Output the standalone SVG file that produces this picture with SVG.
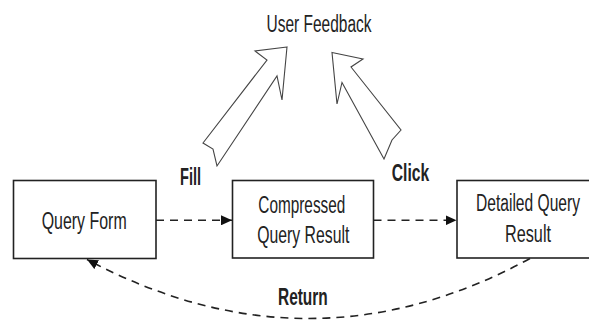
<svg xmlns="http://www.w3.org/2000/svg" width="589" height="320" viewBox="0 0 589 320">
<style>
  .box { fill: #fff; stroke: #222; stroke-width: 1.6; }
  .lbl { font-family: "Liberation Sans", Arial, sans-serif; font-size: 23px; fill: #222; }
  .bold { font-weight: bold; }
  .dash { fill: none; stroke: #222; stroke-width: 1.6; stroke-dasharray: 8 6; }
  .block { fill: #fff; stroke: #444; stroke-width: 1.1; stroke-linejoin: miter; }
</style>
<defs>
  <marker id="ah" markerUnits="userSpaceOnUse" markerWidth="11" markerHeight="10" refX="11" refY="5" orient="auto">
    <path d="M0,0 L11,5 L0,10 z" fill="#111"/>
  </marker>
</defs>
<rect width="589" height="320" fill="#fff"/>

<g id="user-feedback">
  <text class="lbl" x="266.5" y="31.5" textLength="105" lengthAdjust="spacingAndGlyphs">User Feedback</text>
</g>

<g id="fill-arrow">
  <polygon class="block" points="287,47 255,51 267,60 203,143 213,149 217,166 277,76 282,100"/>
  <text class="lbl bold" x="180" y="185" textLength="21" lengthAdjust="spacingAndGlyphs">Fill</text>
</g>

<g id="click-arrow">
  <polygon class="block" points="332,52.5 363,59 351,67 401,130 392,140 384,159 342,82.5 337,104"/>
  <text class="lbl bold" x="391.7" y="180.5" textLength="37.5" lengthAdjust="spacingAndGlyphs">Click</text>
</g>

<g id="query-form">
  <rect class="box" x="13.5" y="180.5" width="142.5" height="78"/>
  <text class="lbl" x="41.7" y="228.5" textLength="85" lengthAdjust="spacingAndGlyphs">Query Form</text>
</g>

<g id="compressed-query-result">
  <rect class="box" x="232.5" y="180.5" width="141" height="77.5"/>
  <text class="lbl" x="258.3" y="212.7" textLength="87" lengthAdjust="spacingAndGlyphs">Compressed</text>
  <text class="lbl" x="257.3" y="243.3" textLength="92" lengthAdjust="spacingAndGlyphs">Query Result</text>
</g>

<g id="detailed-query-result">
  <rect class="box" x="457" y="180.5" width="145" height="77.5"/>
  <text class="lbl" x="476" y="210.7" textLength="104" lengthAdjust="spacingAndGlyphs">Detailed Query</text>
  <text class="lbl" x="505" y="241.7" textLength="46" lengthAdjust="spacingAndGlyphs">Result</text>
</g>

<g id="connectors">
  <line class="dash" x1="156" y1="220.3" x2="232" y2="220.3" marker-end="url(#ah)"/>
  <line class="dash" x1="373.5" y1="220.3" x2="456.5" y2="220.3" marker-end="url(#ah)"/>
  <path class="dash" d="M530,258.5 Q310,378 87,259.5" marker-end="url(#ah)"/>
  <text class="lbl bold" x="278" y="305" textLength="49.7" lengthAdjust="spacingAndGlyphs">Return</text>
</g>
</svg>
